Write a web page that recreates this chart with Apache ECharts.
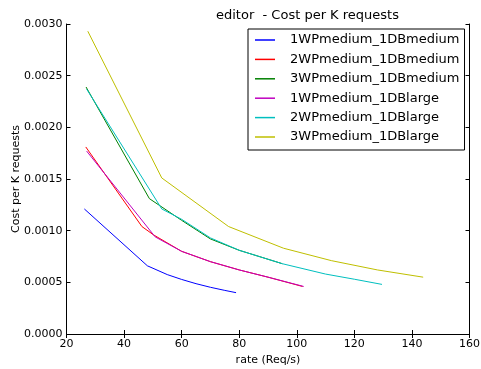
<!DOCTYPE html>
<html>
<head>
<meta charset="utf-8">
<script src="https://cdn.jsdelivr.net/npm/echarts@6/dist/echarts.min.js"></script>
<style>
  html, body { margin: 0; padding: 0; background: #fff; }
  #chart { width: 481px; height: 369px; }
</style>
</head>
<body>
<div id="chart"></div>
<script>
// Measured request rate (Req/s) and cost per thousand requests for each deployment
const seriesNames = [
  '1WPmedium_1DBmedium',
  '2WPmedium_1DBmedium',
  '3WPmedium_1DBmedium',
  '1WPmedium_1DBlarge',
  '2WPmedium_1DBlarge',
  '3WPmedium_1DBlarge'
];
const rate1WPmedium = [26.2, 48.1, 55, 60, 65, 70, 75, 78.9];
const cost1WPmedium = [0.00121, 0.00066, 0.000575, 0.000528, 0.000487, 0.000452, 0.000422, 0.0004];
const rate2WPmedium = [26.7, 46.2, 50.2, 60, 70, 80, 90, 102];
const cost2WPmedium = [0.00181, 0.00104, 0.00096, 0.0008, 0.0007, 0.00062, 0.00055, 0.00046];
const rate3WPmedium = [26.8, 48.8, 60, 70, 80, 95];
const cost3WPmedium = [0.00239, 0.00131, 0.0011, 0.00092, 0.00081, 0.00068];
const rate1WPlarge = [27, 50.8, 60, 70, 80, 90, 102.4];
const cost1WPlarge = [0.00177, 0.00094, 0.0008, 0.0007, 0.00062, 0.00055, 0.00046];
const rate2WPlarge = [27, 53.1, 60, 70, 80, 95, 110, 120, 129.6];
const cost2WPlarge = [0.00237, 0.00121, 0.00111, 0.00093, 0.00081, 0.00068, 0.00058, 0.00053, 0.00048];
const rate3WPlarge = [27.4, 53.1, 76.3, 95.4, 112, 128, 143.9];
const cost3WPlarge = [0.00293, 0.00151, 0.00104, 0.00083, 0.00071, 0.00062, 0.00055];

const rates = [rate1WPmedium, rate2WPmedium, rate3WPmedium, rate1WPlarge, rate2WPlarge, rate3WPlarge];
const costs = [cost1WPmedium, cost2WPmedium, cost3WPmedium, cost1WPlarge, cost2WPlarge, cost3WPlarge];
const lineColors = ['#0000ff', '#ff0000', '#008000', '#bf00bf', '#00bfbf', '#bfbf00'];

const FONT = 'DejaVu Sans';

const series = seriesNames.map((name, i) => ({
  name: name,
  type: 'line',
  xAxisIndex: 0,
  yAxisIndex: 0,
  showSymbol: false,
  symbol: 'none',
  lineStyle: { width: 1, color: lineColors[i] },
  itemStyle: { color: lineColors[i] },
  data: rates[i].map((r, k) => [r, costs[i][k]])
}));

const tickStyle = { inside: true, length: 4, lineStyle: { color: '#000', width: 1 } };
const lineStyleBlack = { show: true, lineStyle: { color: '#000', width: 1 } };

const chart = echarts.init(document.getElementById('chart'), null, { renderer: 'canvas' });
chart.setOption({
  animation: false,
  backgroundColor: '#fff',
  title: {
    text: 'editor  - Cost per K requests',
    left: 211,
    top: 4,
    textStyle: { fontFamily: FONT, fontSize: 13, fontWeight: 'normal', color: '#000' }
  },
  grid: { left: 66.5, right: 11.5, top: 24, bottom: 35, containLabel: false, outerBoundsMode: 'none' },
  legend: {
    orient: 'vertical',
    left: 248,
    top: 29,
    padding: [3, 5, 5, 7],
    itemGap: 3.4,
    itemWidth: 20,
    itemHeight: 1.5,
    icon: 'rect',
    borderColor: '#000',
    borderWidth: 1,
    backgroundColor: '#fff',
    data: seriesNames,
    textStyle: { fontFamily: FONT, fontSize: 13, color: '#000', lineHeight: 16, padding: [0, 0, 0, 10] }
  },
  xAxis: [
    {
      type: 'value', min: 20, max: 160, interval: 20, position: 'bottom',
      name: 'rate (Req/s)', nameLocation: 'middle', nameGap: 21,
      nameMoveOverlap: false,
      nameTextStyle: { fontFamily: FONT, fontSize: 11, color: '#000' },
      axisLine: lineStyleBlack, axisTick: tickStyle,
      axisLabel: { fontFamily: FONT, fontSize: 11, color: '#000', margin: 5 },
      splitLine: { show: false }
    },
    {
      type: 'value', min: 20, max: 160, interval: 20, position: 'top',
      axisLine: lineStyleBlack, axisTick: tickStyle,
      axisLabel: { show: false }, splitLine: { show: false }
    }
  ],
  yAxis: [
    {
      type: 'value', min: 0, max: 0.003, interval: 0.0005, position: 'left',
      name: 'Cost per K requests', nameLocation: 'middle', nameGap: 45,
      nameMoveOverlap: false,
      nameTextStyle: { fontFamily: FONT, fontSize: 11, color: '#000' },
      axisLine: lineStyleBlack, axisTick: tickStyle,
      axisLabel: { fontFamily: FONT, fontSize: 11, color: '#000', margin: 4,
        formatter: v => v.toFixed(4) },
      splitLine: { show: false }
    },
    {
      type: 'value', min: 0, max: 0.003, interval: 0.0005, position: 'right',
      axisLine: lineStyleBlack, axisTick: tickStyle,
      axisLabel: { show: false }, splitLine: { show: false }
    }
  ],
  series: series
});
</script>
</body>
</html>
